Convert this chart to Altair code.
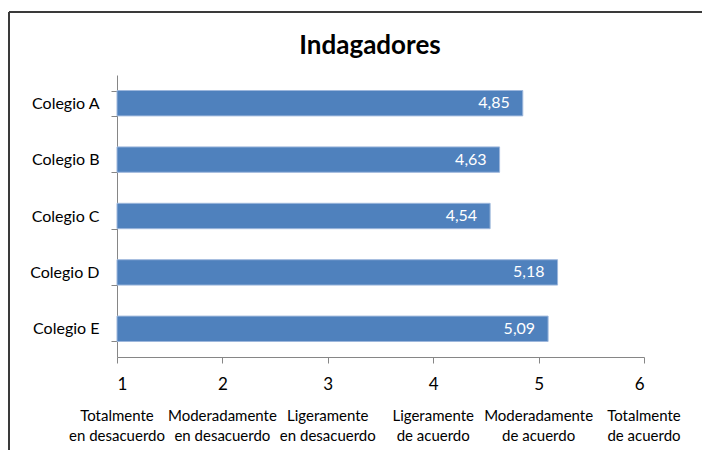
import altair as alt
import pandas as pd

titulo = "Indagadores"
colegios = ["Colegio A", "Colegio B", "Colegio C", "Colegio D", "Colegio E"]
valores = [4.85, 4.63, 4.54, 5.18, 5.09]

escala = [1, 2, 3, 4, 5, 6]
escala_l1 = ["Totalmente", "Moderadamente", "Ligeramente", "Ligeramente", "Moderadamente", "Totalmente"]
escala_l2 = ["en desacuerdo", "en desacuerdo", "en desacuerdo", "de acuerdo", "de acuerdo", "de acuerdo"]

FONT = "Lato"

df = pd.DataFrame({"colegio": colegios, "valor": valores})
df_esc = pd.DataFrame({"v": escala, "txt": [a + "\n" + b for a, b in zip(escala_l1, escala_l2)]})
df_t = pd.DataFrame({"t": [titulo]})

xscale = alt.Scale(domain=[1, 6], zero=False, nice=False)
yscale = alt.Scale(paddingInner=0.55, paddingOuter=0.275)

base = alt.Chart(df)

bars = base.mark_bar(color="#4F81BD", stroke="#9DB7DC", strokeWidth=1).encode(
    x=alt.X("valor:Q", scale=xscale,
            axis=alt.Axis(values=escala, title=None, grid=False, tickSize=6,
                          domainColor="#868686", tickColor="#868686",
                          labelFont=FONT, labelFontSize=17, labelColor="#000000",
                          labelPadding=13, format="d")),
    x2=alt.datum(1),
    y=alt.Y("colegio:N", sort=colegios, scale=yscale,
            axis=alt.Axis(title=None, tickBand="extent", tickSize=6, grid=False,
                          domainColor="#868686", tickColor="#868686",
                          labelFont=FONT, labelFontSize=16, labelColor="#000000",
                          labelPadding=12)),
)

labels = base.transform_calculate(
    lbl="replace(format(datum.valor, '.2f'), '.', ',')"
).mark_text(align="right", baseline="middle", dx=-13, color="white",
            font=FONT, fontSize=16).encode(
    x=alt.X("valor:Q", scale=xscale),
    y=alt.Y("colegio:N", sort=colegios, scale=yscale),
    text="lbl:N",
)

sub = alt.Chart(df_esc).mark_text(align="center", baseline="top", lineBreak="\n",
                                  lineHeight=20, font=FONT, fontSize=15,
                                  color="#000000").encode(
    x=alt.X("v:Q", scale=xscale),
    y=alt.value(334),
    text="txt:N",
)

title = alt.Chart(df_t).mark_text(align="center", baseline="middle", font=FONT,
                                  fontSize=26, fontWeight="bold", color="#000000").encode(
    x=alt.value(253), y=alt.value(-29), text="t:N")

frame_v = alt.Chart(df_t).mark_rule(color="#3a3a3a", strokeWidth=2).encode(
    x=alt.value(-108), y=alt.value(-63), y2=alt.value(420))
frame_h = alt.Chart(df_t).mark_rule(color="#3a3a3a", strokeWidth=2).encode(
    x=alt.value(-108), x2=alt.value(620), y=alt.value(-63))

chart = alt.layer(frame_v, frame_h, bars, labels, sub, title).properties(
    width=527, height=282,
    view=alt.ViewBackground(stroke="transparent", strokeWidth=0),
    autosize=alt.AutoSizeParams(type="none"),
    padding={"left": 109, "top": 67, "right": 58, "bottom": 93},
).configure(background="white", view=alt.ViewConfig(stroke="transparent", strokeWidth=0))

chart.save("out.html", embed_options={"renderer": "svg", "actions": False})
